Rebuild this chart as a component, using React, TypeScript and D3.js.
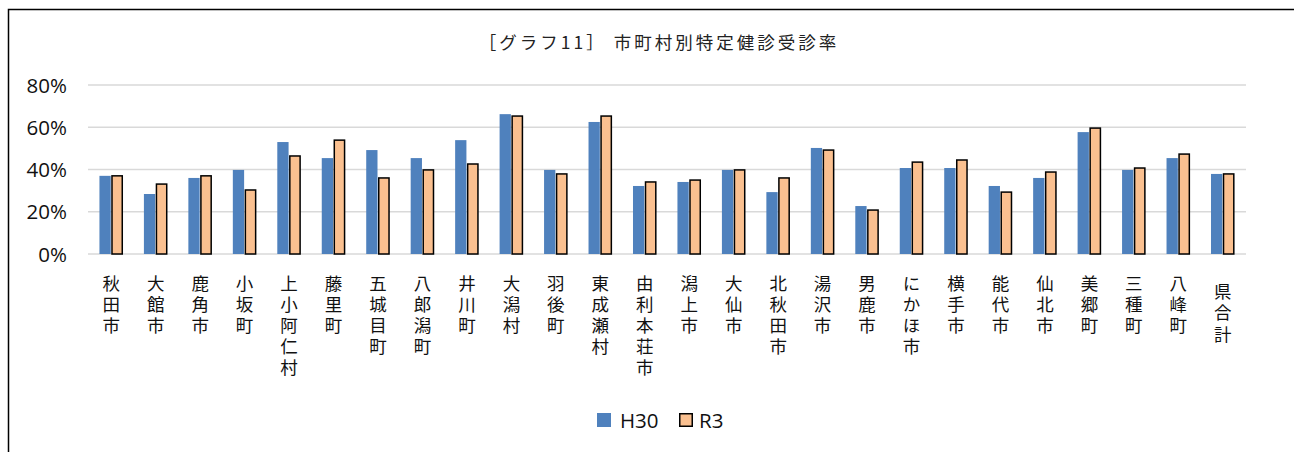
import React from "react";
import * as d3 from "d3";

const categories = [
  "秋田市", "大館市", "鹿角市", "小坂町", "上小阿仁村", "藤里町", "五城目町", "八郎潟町", "井川町",
  "大潟村", "羽後町", "東成瀬村", "由利本荘市", "潟上市", "大仙市", "北秋田市", "湯沢市", "男鹿市",
  "にかほ市", "横手市", "能代市", "仙北市", "美郷町", "三種町", "八峰町", "県合計",
];
const h30 = [37, 28.4, 36, 39.8, 53, 45.4, 49.2, 45.4, 53.9, 66.2, 39.8, 62.5, 32.2, 34.1, 39.8, 29.3, 50.2, 22.7, 40.7, 40.7, 32.2, 36, 57.7, 39.8, 45.4, 37.9];
const r3 = [37, 33.1, 37, 30.3, 46.4, 53.9, 36, 39.8, 42.6, 65.3, 37.9, 65.3, 34.1, 35, 39.8, 36, 49.2, 20.8, 43.5, 44.5, 29.3, 38.8, 59.6, 40.7, 47.3, 37.9];
const yTicks = [0, 20, 40, 60, 80];
const seriesNames = ["H30", "R3"];
const title = "［グラフ11］ 市町村別特定健診受診率";

const W = 1294;
const H = 452;
const BLUE = "#4f81bd";
const ORANGE = "#fac090";
const NUM_FONT = "'Open Sans', 'Noto Sans', sans-serif";
const CJK_FONT = "'Noto Sans CJK JP', sans-serif";

export default function App() {
  const x0 = d3
    .scaleBand<string>()
    .domain(categories)
    .range([89, 1245])
    .paddingInner(0.47)
    .paddingOuter(0.235);
  const x1 = d3.scaleBand<string>().domain(seriesNames).range([0, x0.bandwidth()]);
  const y = d3.scaleLinear().domain([0, 80]).range([254, 85]);

  return (
    <svg
      width={W}
      height={H}
      style={{ position: "absolute", left: 0, top: 0, background: "#fff" }}
    >
      <rect x={0} y={0} width={W} height={H} fill="#fff" />
      <rect x={8.5} y={9.5} width={1400} height={600} fill="none" stroke="#000" strokeWidth={1.5} />
      <text
        x={659}
        y={49}
        textAnchor="middle"
        fontFamily={CJK_FONT}
        fontSize={17.5}
        letterSpacing={3}
        fill="#222"
      >
        {title}
      </text>
      {yTicks.map((t) => (
        <g key={t}>
          <line x1={88} x2={1246} y1={y(t)} y2={y(t)} stroke="#d9d9d9" strokeWidth={1.5} />
          <text
            x={67}
            y={y(t) + 7.5}
            textAnchor="end"
            fontFamily={NUM_FONT}
            fontSize={20.5}
            fill="#111"
          >
            {t}%
          </text>
        </g>
      ))}
      {categories.map((c, i) => {
        const bx = x0(c)!;
        return (
          <g key={c}>
            <rect
              x={bx + x1("H30")!}
              y={y(h30[i])}
              width={x1.bandwidth() - 0.5}
              height={y(0) - y(h30[i])}
              fill={BLUE}
            />
            <rect
              x={bx + x1("R3")! + 0.75}
              y={y(r3[i])}
              width={x1.bandwidth() - 1.5}
              height={y(0) - y(r3[i])}
              fill={ORANGE}
              stroke="#000"
              strokeWidth={1.5}
            />
          </g>
        );
      })}
      {categories.map((c) => {
        const cx = x0(c)! + x0.bandwidth() / 2;
        const offset = c === "県合計" ? 8.5 : 0;
        return (
          <text
            key={c}
            x={cx}
            y={274.5 + offset}
            fontFamily={CJK_FONT}
            fontSize={17.5}
            letterSpacing={3.6}
            fill="#111"
            style={{ writingMode: "vertical-rl" as any }}
          >
            {c}
          </text>
        );
      })}
      <g>
        <rect x={597} y={413} width={14} height={14} fill={BLUE} />
        <text x={620} y={428} fontFamily={NUM_FONT} fontSize={20.5} fill="#111">
          {seriesNames[0]}
        </text>
        <rect x={679.75} y={413.75} width={12.5} height={12.5} fill={ORANGE} stroke="#000" strokeWidth={1.5} />
        <text x={699} y={428} fontFamily={NUM_FONT} fontSize={20.5} fill="#111">
          {seriesNames[1]}
        </text>
      </g>
    </svg>
  );
}
